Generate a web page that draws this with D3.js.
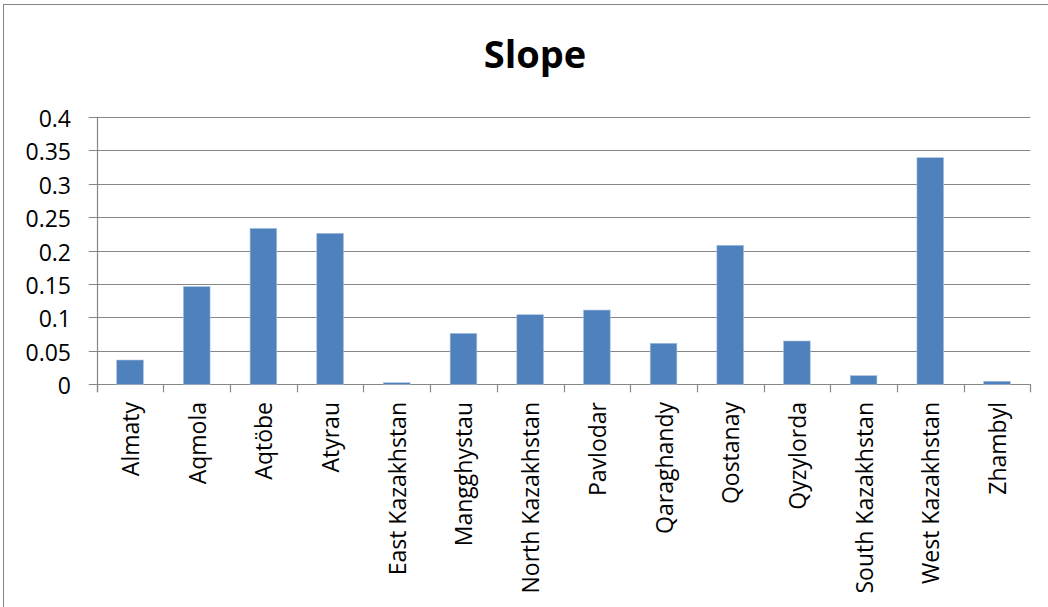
<!DOCTYPE html>
<html><head><meta charset="utf-8">
<script src="https://cdn.jsdelivr.net/npm/d3@7"></script>
<style>html,body{margin:0;padding:0;background:#fff;overflow:hidden}svg{display:block}</style>
</head><body>
<script>
const categories = ["Almaty","Aqmola","Aqtöbe","Atyrau","East Kazakhstan","Mangghystau","North Kazakhstan","Pavlodar","Qaraghandy","Qostanay","Qyzylorda","South Kazakhstan","West Kazakhstan","Zhambyl"];
const slopeValues = [0.0363,0.146,0.233,0.2257,0.0024,0.0762,0.104,0.111,0.0613,0.2078,0.0647,0.0129,0.3387,0.0045];
const yTicks = [0,0.05,0.1,0.15,0.2,0.25,0.3,0.35,0.4];
const yTickLabels = ["0","0.05","0.1","0.15","0.2","0.25","0.3","0.35","0.4"];
const chartTitle = "Slope";

(function(){
const W = 1048, H = 607;
const svg = d3.select("body").append("svg").attr("width", W).attr("height", H);
const font = "'Open Sans', sans-serif";
const gridColor = "#878787";

svg.append("rect").attr("x",3.5).attr("y",4.5).attr("width",W+10).attr("height",H+10)
  .attr("fill","#fff").attr("stroke","#868686").attr("stroke-width",1);

const pl = 96.7, pr = 1030.3, pt = 116.7, pb = 384.3;
const x = d3.scaleBand().domain(categories).range([pl,pr]).paddingInner(0.6).paddingOuter(0.3);
const xb = d3.scaleBand().domain(categories).range([pl,pr]);
const y = d3.scaleLinear().domain([0,0.4]).range([pb,pt]);

svg.append("g").selectAll("line").data(yTicks).join("line")
  .attr("x1",pl-8).attr("x2",pr)
  .attr("y1",d=>Math.round(y(d))+0.5).attr("y2",d=>Math.round(y(d))+0.5)
  .attr("stroke",gridColor).attr("stroke-width",1.2);

svg.append("line").attr("x1",Math.round(pl)+0.5).attr("x2",Math.round(pl)+0.5)
  .attr("y1",pt).attr("y2",pb+8).attr("stroke",gridColor).attr("stroke-width",1.2);

const bounds = categories.map(c=>xb(c)).concat([pr]);
svg.append("g").selectAll("line").data(bounds).join("line")
  .attr("x1",d=>Math.round(d)+0.5).attr("x2",d=>Math.round(d)+0.5)
  .attr("y1",pb).attr("y2",pb+8)
  .attr("stroke",gridColor).attr("stroke-width",1.2);

svg.append("g").selectAll("rect").data(categories).join("rect")
  .attr("x",c=>x(c)).attr("width",x.bandwidth())
  .attr("y",(c,i)=>y(slopeValues[i]))
  .attr("height",(c,i)=>Math.max(0,y(0)-y(slopeValues[i])))
  .attr("fill","#4F81BD").attr("stroke","#a9c0de").attr("stroke-width",0.6);

svg.append("g").selectAll("text").data(yTicks).join("text")
  .attr("x",71).attr("y",d=>y(d)+10)
  .attr("text-anchor","end").attr("font-family",font).attr("font-size",23).attr("fill","#000")
  .text((d,i)=>yTickLabels[i]);

svg.append("g").selectAll("text").data(categories).join("text")
  .attr("transform",c=>`translate(${xb(c)+xb.bandwidth()/2+9},402) rotate(-90)`)
  .attr("text-anchor","end").attr("font-family",font).attr("font-size",23).attr("fill","#000")
  .text(c=>c);

svg.append("text").attr("x",535).attr("y",68).attr("text-anchor","middle")
  .attr("font-family",font).attr("font-weight","bold").attr("font-size",38).attr("fill","#000")
  .text(chartTitle);
})();
</script>
</body></html>
